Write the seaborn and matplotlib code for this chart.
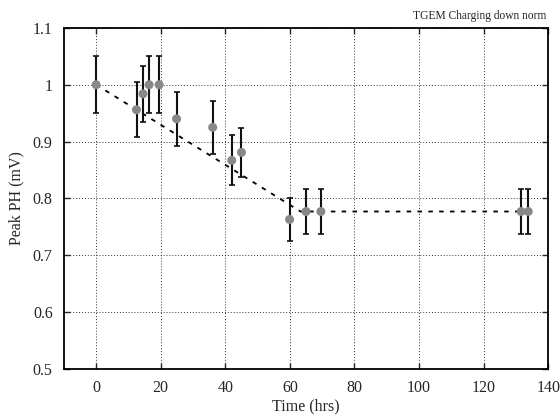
import matplotlib
matplotlib.use("Agg")
import matplotlib.pyplot as plt
import seaborn as sns
import pandas as pd

# Measurements: time since start (hours), normalised peak pulse height, uncertainty
time_hrs = [0, 12.5, 14.5, 16.4, 19.5, 24.9, 36.1, 42.0, 45.0, 59.9, 65.0, 69.6, 131.6, 133.8]
peak_ph = [1.0, 0.956, 0.984, 1.0, 1.0, 0.94, 0.925, 0.867, 0.881, 0.763, 0.777, 0.777, 0.777, 0.777]
peak_err = [0.05, 0.048, 0.049, 0.05, 0.05, 0.048, 0.046, 0.044, 0.043, 0.038, 0.039, 0.039, 0.039, 0.039]

# Charging-down model: linear decay then plateau
fit_t = [0, 63.3, 131.6]
fit_v = [1.0, 0.777, 0.777]

x_ticks = [0, 20, 40, 60, 80, 100, 120, 140]
y_ticks = [0.5, 0.6, 0.7, 0.8, 0.9, 1.0, 1.1]
y_tick_labels = ["0.5", "0.6", "0.7", "0.8", "0.9", "1", "1.1"]

sns.set_style("ticks")
plt.rcParams["font.family"] = ["Liberation Serif", "DejaVu Serif"]

df = pd.DataFrame({"t": time_hrs, "ph": peak_ph, "err": peak_err})
fit = pd.DataFrame({"t": fit_t, "v": fit_v})

fig = plt.figure(figsize=(5.6, 4.16), dpi=100)
ax = fig.add_axes([0.114, 0.113, 0.865, 0.82])

ax.grid(True, color="#333333", linestyle=(0, (1, 2)), linewidth=0.7)
ax.set_axisbelow(True)

sns.lineplot(data=fit, x="t", y="v", ax=ax, color="black",
             linestyle=(0, (2.5, 3.5)), linewidth=1.3, zorder=2)
ax.errorbar(df["t"], df["ph"], yerr=df["err"], fmt="none", ecolor="#111111",
            elinewidth=1.5, capsize=2, capthick=1.2, zorder=3)
sns.scatterplot(data=df, x="t", y="ph", ax=ax, color="#888888", s=42,
                edgecolor="none", zorder=4)

ax.set_xlim(-10, 140)
ax.set_ylim(0.5, 1.1)
ax.set_xticks(x_ticks)
ax.set_yticks(y_ticks)
ax.set_yticklabels(y_tick_labels)
ax.tick_params(direction="in", top=True, right=True, length=4, width=1,
               labelsize=11.5, pad=8)
for s in ax.spines.values():
    s.set_linewidth(1.3)
    s.set_color("black")

ax.set_xlabel("Time (hrs)", fontsize=11.5, labelpad=2)
ax.set_ylabel("Peak PH (mV)", fontsize=11.5, labelpad=6)
fig.text(0.976, 0.962, "TGEM Charging down norm", ha="right", va="center", fontsize=8.3)

fig.savefig("out.png", dpi=100)
